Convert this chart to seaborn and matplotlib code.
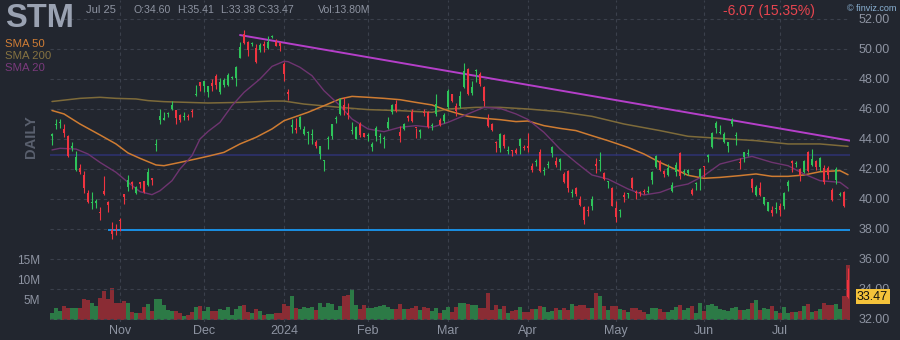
import numpy as np
import matplotlib
matplotlib.use("Agg")
import matplotlib.pyplot as plt
import seaborn as sns

# ---------------- data ----------------
ticker = "STM"
opens = [44.2,44.9,45.05,44.67,44.2,43.4,41.93,42.04,41.6,40.4,
         39.7,39.75,39.15,40.53,39.82,37.93,38.0,38.6,40.3,40.78,
         41.1,40.4,41.1,41.17,40.93,41.38,43.6,45.29,45.3,45.68,
         46.0,45.9,45.6,45.48,45.52,45.82,46.94,47.78,47.5,47.11,
         47.73,48.22,47.11,47.6,47.6,48.08,48.04,49.38,51.0,50.44,
         50.31,50.07,49.96,50.3,50.04,50.82,50.49,50.4,49.0,47.1,
         44.83,44.76,44.78,44.33,44.38,44.25,43.82,43.0,42.54,44.02,
         44.18,45.31,45.67,46.27,45.7,44.53,44.0,45.0,44.4,44.2,
         43.44,44.18,44.16,44.02,44.71,45.78,46.33,44.49,44.67,45.47,
         45.82,44.72,44.44,45.75,45.82,44.87,45.67,45.29,45.22,46.11,
         46.98,46.18,46.18,47.44,48.67,47.07,48.5,48.33,47.44,45.33,
         45.0,43.8,43.38,44.27,43.18,43.22,43.29,43.51,43.46,43.56,
         42.22,42.47,43.11,41.87,42.25,43.07,42.55,42.49,41.67,41.89,
         40.38,40.71,40.0,39.44,39.25,39.51,42.33,42.53,41.73,41.14,
         40.71,39.38,39.2,40.27,40.31,41.38,40.46,40.46,40.51,40.47,
         41.29,42.11,42.49,41.89,41.6,40.55,41.78,43.07,41.8,41.75,
         40.62,40.98,41.44,42.15,42.78,43.44,44.71,44.42,43.82,43.55,
         45.0,44.2,42.46,42.78,42.98,41.33,40.27,40.71,39.67,39.22,
         39.29,39.31,39.55,39.51,40.84,42.55,42.31,42.0,41.82,43.16,
         42.27,42.55,42.11,42.04,42.04,40.62,41.29,40.29,40.49,34.60]
highs = [44.4,45.33,45.35,45.0,44.27,43.77,43.22,42.33,41.89,40.58,
         40.44,40.0,39.44,41.55,39.9,38.49,38.33,38.7,40.33,41.6,
         41.2,40.84,41.15,41.2,42.04,41.38,44.0,46.0,45.78,45.8,
         46.5,45.93,45.67,45.78,45.67,46.0,47.6,47.78,47.89,47.56,
         48.0,48.33,48.04,48.05,48.4,48.2,48.84,50.49,51.27,50.56,
         50.45,50.33,50.4,50.56,50.84,50.96,50.67,50.49,49.11,47.33,
         45.33,45.38,45.56,44.84,44.56,44.67,43.96,43.56,42.62,44.18,
         45.02,45.51,46.71,46.78,46.4,45.16,44.89,45.11,44.42,44.4,
         43.78,44.84,44.4,44.18,45.44,46.33,46.62,44.84,45.05,45.6,
         46.0,44.75,44.65,46.0,45.89,45.05,47.0,45.38,45.73,47.33,
         47.0,46.4,47.22,49.07,48.73,47.89,48.67,48.44,47.51,45.67,
         45.05,43.89,44.4,44.31,43.51,43.3,43.4,44.05,43.6,44.4,
         42.4,42.67,43.33,42.11,42.55,43.5,42.78,42.75,41.78,41.96,
         40.67,40.78,40.18,39.51,39.55,40.22,42.71,43.1,41.78,41.2,
         40.78,39.9,39.35,40.44,40.38,41.45,40.6,40.55,40.67,40.84,
         41.85,42.93,42.62,41.95,42.33,41.11,42.44,43.11,42.0,42.0,
         40.7,41.16,42.04,42.22,43.0,44.44,45.22,44.93,44.49,43.82,
         45.38,44.44,42.71,43.15,43.33,41.38,40.93,41.11,40.15,39.82,
         39.55,39.82,39.73,40.44,41.29,42.62,42.55,42.05,42.62,43.22,
         43.33,42.6,42.78,42.27,42.22,40.71,42.11,40.49,40.55,35.41]
lows = [43.6,44.67,44.7,44.1,42.8,43.2,41.89,41.67,40.4,39.73,
        39.33,39.4,38.6,40.27,39.16,37.33,37.6,37.9,39.67,40.56,
        40.67,40.33,40.7,40.4,40.89,40.93,43.2,45.0,45.29,45.44,
        45.96,45.0,45.11,45.29,45.29,45.44,46.89,47.2,47.15,46.78,
        47.2,47.33,47.0,47.45,47.5,48.0,47.56,49.38,50.33,49.51,
        50.18,49.07,49.78,49.82,50.0,50.7,50.18,49.89,47.89,46.62,
        44.4,44.4,44.67,44.27,43.67,43.67,43.38,42.67,41.89,43.33,
        44.0,45.07,45.6,45.6,45.33,44.33,44.0,44.11,44.1,43.89,
        43.22,43.89,43.73,43.42,44.67,45.67,45.82,43.82,44.6,45.22,
        45.15,44.04,44.04,45.55,44.71,44.62,45.51,44.84,45.07,46.0,
        46.44,45.51,46.04,47.38,46.93,46.93,47.78,47.51,46.22,44.78,
        44.55,43.11,43.16,43.42,43.0,42.9,43.0,43.0,43.3,43.16,
        41.82,42.18,41.78,41.6,42.04,42.78,42.11,41.96,41.07,40.44,
        40.11,40.18,39.55,38.33,38.84,39.29,41.73,41.89,41.27,40.71,
        39.51,38.49,38.78,39.82,40.05,40.67,40.0,40.2,40.35,40.4,
        41.0,42.04,41.9,41.44,41.51,40.49,41.55,41.33,41.6,41.6,
        40.27,40.62,40.62,41.44,42.44,43.38,44.4,44.33,43.73,43.11,
        44.84,43.6,42.0,42.49,42.9,40.49,40.22,40.18,39.6,39.18,
        38.84,39.07,38.89,39.33,40.55,41.82,42.11,41.22,41.73,41.82,
        42.22,41.96,41.89,41.0,41.33,39.89,41.0,40.22,39.49,33.38]
closes = [44.3,45.0,45.15,44.4,42.9,43.55,42.82,41.82,40.76,39.8,
          39.8,39.85,39.05,40.31,39.6,37.67,37.93,38.5,40.1,41.27,
          41.0,40.78,41.0,40.44,41.78,41.27,43.67,45.51,45.33,45.72,
          46.27,45.38,45.29,45.52,45.48,45.78,46.98,47.5,47.84,47.51,
          47.56,47.6,47.78,47.96,48.27,48.12,48.78,50.11,50.4,49.96,
          50.35,49.11,50.27,50.2,50.49,50.86,50.22,50.18,48.33,47.0,
          44.87,44.62,45.49,44.67,44.42,44.29,43.56,43.51,42.58,44.06,
          44.98,45.35,46.67,45.96,45.6,44.57,44.78,44.27,44.1,44.24,
          43.67,44.71,44.2,44.06,45.15,46.27,45.89,44.22,45.0,45.43,
          45.22,44.7,44.62,45.71,44.78,44.91,46.33,44.93,45.6,47.2,
          46.53,45.89,46.84,48.55,47.0,47.44,48.57,47.67,46.55,44.89,
          44.62,43.76,44.33,43.51,43.22,43.18,43.07,44.0,43.42,43.38,
          41.96,42.51,41.89,41.91,42.29,43.44,42.27,42.67,41.11,40.71,
          40.42,40.33,39.6,38.62,39.2,40.0,42.18,42.57,41.33,41.18,
          39.55,38.78,39.24,40.11,40.35,40.71,40.42,40.42,40.47,40.51,
          41.82,42.84,41.96,41.67,42.04,40.93,42.27,41.55,41.84,41.9,
          40.31,41.02,42.0,42.1,42.93,44.4,45.07,44.46,44.33,43.78,
          45.29,44.24,42.42,43.11,43.02,40.71,40.78,40.27,40.11,39.78,
          39.07,39.35,39.29,40.4,41.16,42.4,42.35,41.51,42.55,41.89,
          42.67,42.11,42.71,41.15,41.6,39.95,42.0,40.33,39.55,33.47]
volumes_m = [1.8,2.9,2.3,3.5,3.1,3.0,3.0,3.0,5.2,5.0,
             4.3,3.5,5.5,7.25,5.3,8.0,4.2,4.3,4.75,4.3,
             2.0,1.7,1.8,3.25,4.0,2.25,5.25,5.25,3.75,2.5,
             2.3,2.3,1.7,1.0,1.25,2.0,3.25,3.5,2.3,3.25,
             2.3,2.3,2.7,2.5,3.25,1.25,2.7,3.5,3.75,2.1,
             1.7,2.75,2.3,1.25,1.5,1.5,1.7,1.7,4.0,3.6,
             6.0,3.0,2.7,3.2,3.1,3.25,2.5,4.25,3.3,4.25,
             4.0,2.5,3.5,6.0,6.25,7.75,3.75,2.75,3.75,3.0,
             3.1,3.3,3.5,3.7,3.3,2.7,2.7,4.0,2.7,2.7,
             3.0,3.5,2.5,3.2,3.0,2.25,3.0,1.8,2.5,3.3,
             2.1,3.3,4.2,4.3,4.0,3.75,3.75,3.0,3.0,6.8,
             2.5,3.75,2.75,3.5,1.75,2.25,2.5,3.25,2.1,2.1,
             2.8,2.7,3.5,3.25,2.0,2.3,3.0,2.5,2.9,2.5,
             4.0,3.5,3.75,3.75,2.9,3.0,6.75,6.0,3.5,2.5,
             3.5,3.5,2.75,2.5,2.0,3.0,3.1,2.5,2.0,1.5,
             3.0,3.0,2.75,2.0,2.0,2.5,3.25,3.75,2.5,3.0,
             3.5,1.75,4.25,2.25,3.75,4.0,3.5,2.75,2.5,2.2,
             3.0,3.2,2.5,2.5,2.75,4.25,4.9,2.5,3.0,2.75,
             3.5,2.25,1.75,3.25,1.75,2.0,2.0,2.25,3.5,4.0,
             2.0,2.25,2.75,4.25,3.75,3.75,4.0,2.75,6.0,13.8]

# moving averages (bar index, value)
sma50_idx = [0,3,7,12,16,19,22,26,28,32,36,39,43,47,51,55,58,64,68,72,75,79,83,87,91,95,99,
             104,108,112,116,119,123,127,131,135,139,144,148,152,156,159,163,167,172,176,180,
             184,188,192,197,199]
sma50_val = [45.9,45.67,45.0,44.27,43.67,43.07,42.71,42.27,42.22,42.44,42.67,42.85,43.11,43.67,
             44.11,44.67,45.22,45.78,46.22,46.67,46.84,46.78,46.71,46.62,46.44,46.27,45.89,
             45.51,45.38,45.29,45.16,45.2,44.89,44.71,44.56,44.22,43.89,43.44,43.0,42.44,41.96,
             41.58,41.38,41.44,41.56,41.67,41.51,41.51,41.6,41.82,41.89,41.62]
sma200_idx = [0,7,12,16,21,24,28,34,39,47,55,58,63,72,79,87,95,99,106,112,119,127,135,143,
              152,159,167,176,184,192,199]
sma200_val = [46.5,46.71,46.78,46.71,46.67,46.56,46.49,46.44,46.4,46.44,46.53,46.53,46.33,
              46.11,45.96,45.89,45.78,46.0,46.11,46.11,46.0,45.82,45.51,45.0,44.56,44.18,
              44.04,43.89,43.67,43.67,43.51]
sma20_idx = [0,2,6,9,12,16,19,22,25,27,30,32,35,37,39,42,45,48,52,55,58,59,62,65,68,72,75,
             79,83,87,91,95,99,104,108,112,116,119,123,127,131,135,139,144,148,152,156,159,
             163,167,172,175,180,184,188,192,197,199]
sma20_val = [43.27,43.38,43.33,43.0,42.44,41.78,41.11,40.49,40.29,40.55,41.22,42.0,42.89,44.0,
             44.5,45.11,46.22,47.11,48.0,48.84,49.18,49.16,48.78,48.22,47.22,46.22,45.33,
             44.67,44.49,44.78,44.89,44.78,45.11,45.67,46.11,46.04,45.67,45.3,44.44,43.33,
             42.44,41.6,41.33,40.67,40.27,40.44,40.84,41.0,41.56,42.33,42.67,42.84,42.44,
             42.22,41.67,41.22,41.11,40.71]

trend_idx = [47, 199.5]
trend_val = [50.93, 43.89]
support_start = 14
support_level = 37.93
resist_level = 42.91

month_labels = ["Nov", "Dec", "2024", "Feb", "Mar", "Apr", "May", "Jun", "Jul"]
month_idx = [17, 38, 58, 79, 99, 119, 141, 163, 182]
price_ticks = [32, 34, 36, 38, 40, 42, 44, 46, 48, 50, 52]
vol_ticks = [5, 10, 15]
vol_tick_labels = ["5M", "10M", "15M"]

header_date = "Jul 25"
header_ohlc = ["O:34.60", "H:35.41", "L:33.38", "C:33.47", "Vol:13.80M"]
change_text = "-6.07 (15.35%)"

# ---------------- style ----------------
sns.set_theme(style="dark")
plt.rcParams['font.family'] = ['Liberation Sans', 'DejaVu Sans']

BG = "#22262f"
GRID = "#3b404c"
TXT = "#8e94a2"
UP = "#2ec45a"
DN = "#f03440"
VUP = "#2c7a46"
VDN = "#8a2c34"

W, H = 900, 340
fig = plt.figure(figsize=(9, 3.4), dpi=100, facecolor=BG)

def fx(x):
    return x / W

def fy(y):
    return 1 - y / H

axv = fig.add_axes([50 / W, 18 / H, 800 / W, 322 / H])
axv.set_facecolor(BG)
ax = axv.twinx()

n = len(closes)
idx = np.arange(n)
o = np.array(opens); c = np.array(closes); h = np.array(highs); l = np.array(lows)
up = c >= o

# volume
vcol = [VUP if u else VDN for u in up]
axv.bar(idx, volumes_m, width=1.0, color=vcol, linewidth=0, zorder=2)
axv.set_ylim(-0.5, 80)
axv.set_xlim(-0.5, n - 0.5)
axv.set_yticks(vol_ticks)
axv.set_yticklabels(vol_tick_labels)
axv.tick_params(axis='y', length=0, pad=7, labelsize=8.5, labelcolor=TXT)
axv.set_xticks(month_idx)
axv.set_xticklabels(month_labels)
axv.tick_params(axis='x', length=0, pad=2, labelsize=9, labelcolor=TXT)
axv.grid(axis='x', color=GRID, linestyle=(0, (3, 3)), linewidth=0.8)
axv.grid(axis='y', visible=False)

# price
ax.set_ylim(52 - 303 / 15, 52 + 19 / 15)
ax.set_xlim(-0.5, n - 0.5)
ax.set_yticks(price_ticks)
ax.set_yticklabels([f"{v:.2f}" for v in price_ticks])
ax.tick_params(axis='y', length=0, pad=6, labelsize=9, labelcolor=TXT)
ax.grid(axis='y', color=GRID, linestyle=(0, (3, 3)), linewidth=0.8)
ax.set_axisbelow(True)

for a in (ax, axv):
    for s in a.spines.values():
        s.set_visible(False)

# reference lines
ax.hlines(resist_level, -0.5, n - 0.5, color="#2f3372", lw=1.1, zorder=2)
ax.hlines(support_level, support_start, n - 0.5, color="#1a8fe3", lw=1.4, zorder=2)

# moving averages
sns.lineplot(x=sma200_idx, y=sma200_val, ax=ax, color="#7e6b3a", lw=1.1, zorder=3)
sns.lineplot(x=sma50_idx, y=sma50_val, ax=ax, color="#cf7c32", lw=1.1, zorder=3)
sns.lineplot(x=sma20_idx, y=sma20_val, ax=ax, color="#6e3470", lw=1.0, zorder=3)
sns.lineplot(x=trend_idx, y=trend_val, ax=ax, color="#b53fc9", lw=1.4, zorder=3)

# candles
ccol = [UP if u else DN for u in up]
ax.vlines(idx, l, h, colors=ccol, lw=0.8, zorder=4)
body_lo = np.minimum(o, c)
body_h = np.maximum(np.abs(c - o), 0.07)
ax.bar(idx, body_h, bottom=body_lo, width=0.72, color=ccol, linewidth=0, zorder=5)

ax.set_xlabel(""); ax.set_ylabel("")
axv.set_xlabel(""); axv.set_ylabel("")

# last price tag
ax.text(1 + 7 / 800, closes[-1], f"{closes[-1]:.2f}", transform=ax.get_yaxis_transform(),
        fontsize=9, color="#111111", va="center", ha="left", clip_on=False, zorder=10,
        bbox=dict(boxstyle="square,pad=0.12", fc="#f4c23a", ec="none"))

# header texts
fig.text(fx(5), fy(26.7), ticker, fontsize=23.5, fontweight="bold", color="#9aa2b2", va="baseline")
fig.text(fx(86), fy(12.7), header_date, fontsize=8, color=TXT, va="baseline")
for xpos, t in zip([133, 177, 220, 257, 318], header_ohlc):
    fig.text(fx(xpos), fy(12.7), t, fontsize=7.6, color=TXT, va="baseline")
fig.text(fx(723), fy(14.5), change_text, fontsize=10, color="#e8454f", va="baseline")
fig.text(fx(847), fy(11), "\u00a9 finviz.com", fontsize=6.5, color="#8cb4d6", va="baseline")

fig.text(fx(5), fy(44), "SMA 50", fontsize=8.2, color="#d07d35", va="center")
fig.text(fx(5), fy(56), "SMA 200", fontsize=8.2, color="#857241", va="center")
fig.text(fx(5), fy(68), "SMA 20", fontsize=8.2, color="#7a3a7c", va="center")
fig.text(fx(31), fy(137), "DAILY", fontsize=10.5, fontweight="bold", color="#5a606e",
         rotation=90, va="center", ha="center")

fig.savefig("out.png", dpi=100, facecolor=BG)
